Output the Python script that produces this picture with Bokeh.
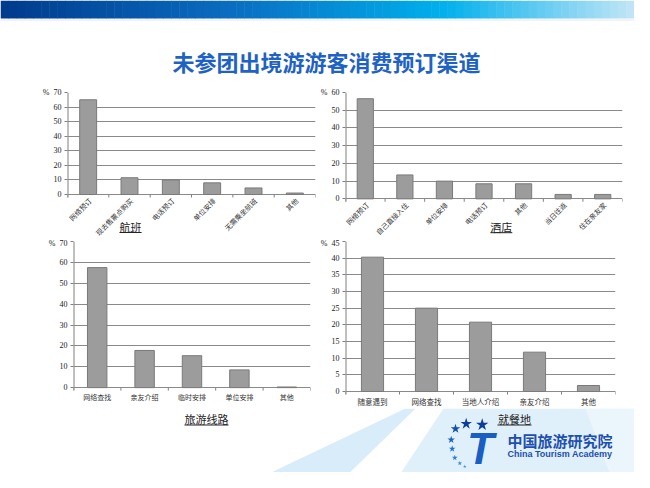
import math
from bokeh.plotting import figure
from bokeh.layouts import column, row
from bokeh.models import Range1d, FactorRange, FixedTicker
from bokeh.embed import file_html
from bokeh.resources import INLINE
from bokeh.core.properties import value

# ---------------- data ----------------
page_title = "未参团出境游游客消费预订渠道"

flight_title = "航班"
flight_cats = ["网络预订", "现去售票点购买", "电话预订", "单位安排", "无需乘坐航班", "其他"]
flight_vals = [65.0, 11.5, 10.0, 8.0, 4.5, 1.0]
flight_ticks = [0, 10, 20, 30, 40, 50, 60, 70]

hotel_title = "酒店"
hotel_cats = ["网络预订", "自己直接入住", "单位安排", "电话预订", "其他", "当日往返", "住在亲友家"]
hotel_vals = [56.5, 13.5, 10.0, 8.5, 8.5, 2.5, 2.5]
hotel_ticks = [0, 10, 20, 30, 40, 50, 60]

route_title = "旅游线路"
route_cats = ["网络查找", "亲友介绍", "临时安排", "单位安排", "其他"]
route_vals = [57.5, 17.8, 15.3, 8.5, 0.3]
route_ticks = [0, 10, 20, 30, 40, 50, 60, 70]

dining_title = "就餐地"
dining_cats = ["随意遇到", "网络查找", "当地人介绍", "亲友介绍", "其他"]
dining_vals = [40.3, 25.0, 20.8, 11.8, 1.8]
dining_ticks = [0, 5, 10, 15, 20, 25, 30, 35, 40, 45]

logo_cn = "中国旅游研究院"
logo_en = "China Tourism Academy"

CJK = "Noto Sans CJK SC"
SERIF = "Liberation Serif"
W = 634


def lerp_color(stops, t):
    for (t0, c0), (t1, c1) in zip(stops[:-1], stops[1:]):
        if t <= t1:
            f = (t - t0) / (t1 - t0) if t1 > t0 else 0
            a = [int(c0[i:i + 2], 16) for i in (1, 3, 5)]
            b = [int(c1[i:i + 2], 16) for i in (1, 3, 5)]
            return "#%02x%02x%02x" % tuple(int(round(a[k] + (b[k] - a[k]) * f)) for k in range(3))
    return stops[-1][1]


def blank(w, h):
    p = figure(width=w, height=h, x_range=Range1d(0, w), y_range=Range1d(h, 0),
               output_backend="svg", toolbar_location=None,
               min_border=0, outline_line_color=None,
               background_fill_color="white", border_fill_color="white")
    p.axis.visible = False
    p.grid.visible = False
    return p


class Chart:
    def __init__(self, cats, vals, ticks, w, h, bl, br, bt, zero_px, rotate, lab_px, font_size, pct_pad):
        self.n = len(cats)
        ymax = ticks[-1]
        self.k = (zero_px - bt) / ymax          # pixels per unit
        self.bl, self.fw = bl, w - bl - br
        lo = -(h - zero_px) / self.k
        p = figure(width=w, height=h, x_range=FactorRange(*cats), y_range=Range1d(lo, ymax),
                   output_backend="svg", toolbar_location=None,
                   min_border_left=bl, min_border_right=br, min_border_top=bt, min_border_bottom=0,
                   outline_line_color=None, background_fill_color="white", border_fill_color="white")
        p.vbar(x=cats, top=vals, bottom=0, width=0.41, fill_color="#9c9c9c", line_color="#7a7a7a", line_width=1)
        n = self.n
        tick_lo = self.u(3)
        p.segment(x0=list(range(n + 1)), y0=[0] * (n + 1), x1=list(range(n + 1)), y1=[tick_lo] * (n + 1),
                  line_color="#808080", line_width=1)
        p.segment(x0=[0], y0=[tick_lo], x1=[0], y1=[ymax], line_color="#808080", line_width=2)
        p.xaxis.visible = False
        p.xgrid.visible = False
        p.ygrid.ticker = FixedTicker(ticks=ticks)
        p.ygrid.grid_line_color = "#8a8a8a"
        p.ygrid.grid_line_width = 1
        p.yaxis.ticker = FixedTicker(ticks=ticks)
        p.yaxis.axis_line_color = None
        p.yaxis.major_tick_line_color = "#808080"
        p.yaxis.major_tick_out = 3
        p.yaxis.major_tick_in = 0
        p.yaxis.minor_tick_line_color = None
        p.yaxis.major_label_text_font = SERIF
        p.yaxis.major_label_text_font_size = "8px"
        p.yaxis.major_label_text_color = "#222222"
        p.yaxis.major_label_standoff = 3
        p.yaxis.major_label_overrides = {ymax: "%" + "\u00a0" * pct_pad + str(ymax)}
        if rotate:
            p.text(x=cats, y=[self.u(lab_px)] * n, text=cats, angle=math.pi / 4, x_offset=2,
                   text_align="right", text_baseline="middle", text_font=value(CJK),
                   text_font_size=font_size, text_color="#333333")
        else:
            p.text(x=cats, y=[self.u(lab_px)] * n, text=cats,
                   text_align="center", text_baseline="middle", text_font=value(CJK),
                   text_font_size=font_size, text_color="#333333")
        self.p = p

    def u(self, px_below_zero):
        return -px_below_zero / self.k

    def xs(self, px):
        return (px - self.bl) / (self.fw / self.n)

    def title(self, text, cx, px_below, half_w, ul_below):
        p = self.p
        p.text(x=[self.xs(cx)], y=[self.u(px_below)], text=[text], text_font=value(CJK), text_font_size="11px",
               text_color="#222222", text_align="center", text_baseline="middle")
        p.segment(x0=[self.xs(cx - half_w)], x1=[self.xs(cx + half_w)],
                  y0=[self.u(ul_below)], y1=[self.u(ul_below)], line_color="#222222", line_width=1)


# ---------------- header ----------------
hdr = blank(W, 78)
stops = [(0.0, "#003a8c"), (0.35, "#0a6cc0"), (0.68, "#00b0ec"), (1.0, "#d4eaf8")]
nq = 80
lefts = [650 * i / nq for i in range(nq)]
rights = [650 * (i + 1) / nq + 0.5 for i in range(nq)]
cols = [lerp_color(stops, (i + 0.5) / nq) for i in range(nq)]
hdr.quad(left=lefts, right=rights, top=[0] * nq, bottom=[18] * nq, fill_color=cols, line_color=None)
hdr.segment(x0=[0], x1=[W], y0=[19.5], y1=[19.5], line_color="#e4e8ee", line_width=1)
hdr.text(x=[326], y=[60], text=[page_title], text_font=value(CJK), text_font_size="22px",
         text_font_style="bold", text_color="#1e62c4", text_align="center", text_baseline="middle")

# ---------------- charts ----------------
c1 = Chart(flight_cats, flight_vals, flight_ticks, 317, 160, 67, 2, 14, 116, True, 5, "7px", 2)
c1.title(flight_title, 130, 32, 11, 38)

c2 = Chart(hotel_cats, hotel_vals, hotel_ticks, 317, 160, 26, 12, 9, 119, True, 5, "7px", 2)
c2.title(hotel_title, 183, 29, 11, 35)

c3 = Chart(route_cats, route_vals, route_ticks, 317, 170, 73, 7, 2, 149, False, 9, "7px", 2)
c4 = Chart(dining_cats, dining_vals, dining_ticks, 317, 170, 26, 19, 3, 153, False, 9.5, "7.5px", 2)

# ---------------- footer ----------------
ft = blank(W, 64)
ft.patch(x=[237, 405, 415, 333], y=[80, 0, 0, 80], fill_color="#d8edf9", line_color=None)
ft.patch(x=[390, 443, 650, 650], y=[80, 0, 0, 80], fill_color="#e0f0fb", line_color=None)
ft.patch(x=[585, 650, 650, 615], y=[0, 0, 80, 80], fill_color="#ebf5fc", line_color=None)
ft.text(x=[206], y=[10], text=[route_title], text_font=value(CJK), text_font_size="11px",
        text_color="#222222", text_align="center", text_baseline="middle")
ft.segment(x0=[184], y0=[16.5], x1=[228], y1=[16.5], line_color="#222222", line_width=1)
ft.text(x=[514], y=[10], text=[dining_title], text_font=value(CJK), text_font_size="11px",
        text_color="#222222", text_align="center", text_baseline="middle")
ft.segment(x0=[497], y0=[16.5], x1=[531], y1=[16.5], line_color="#222222", line_width=1)
star_x = [465.7, 481.7, 455.0, 450.7, 451.7, 454.3, 459.3, 464.3]
star_y = [15.3, 16.3, 20.3, 31.3, 40.3, 49.3, 54.7, 58.0]
star_s = [12, 13, 10, 8, 7, 6, 5, 4]
star_c = ["#0c3d9c", "#0c3d9c", "#1050b0", "#1a62c0", "#2470c8", "#2f7fd0", "#3a8cd8", "#4a98dc"]
ft.scatter(x=star_x, y=star_y, size=star_s, marker="star", fill_color=star_c, line_color=None)
ft.text(x=[480], y=[40], text=["T"], text_font=value("Liberation Sans"), text_font_size="44px",
        text_font_style="bold italic", text_color="#1a5ec4", text_align="center", text_baseline="middle")
ft.text(x=[507], y=[32], text=[logo_cn], text_font=value(CJK), text_font_size="15px",
        text_font_style="bold", text_color="#1d4fae", text_align="left", text_baseline="middle")
ft.text(x=[507], y=[45], text=[logo_en], text_font=value("Liberation Sans"), text_font_size="9px",
        text_font_style="bold", text_color="#1d4fae", text_align="left", text_baseline="middle")

layout = column(hdr, row(c1.p, c2.p), row(c3.p, c4.p), ft, spacing=0)

with open("out.html", "w") as f:
    f.write(file_html(layout, INLINE, "chart"))
